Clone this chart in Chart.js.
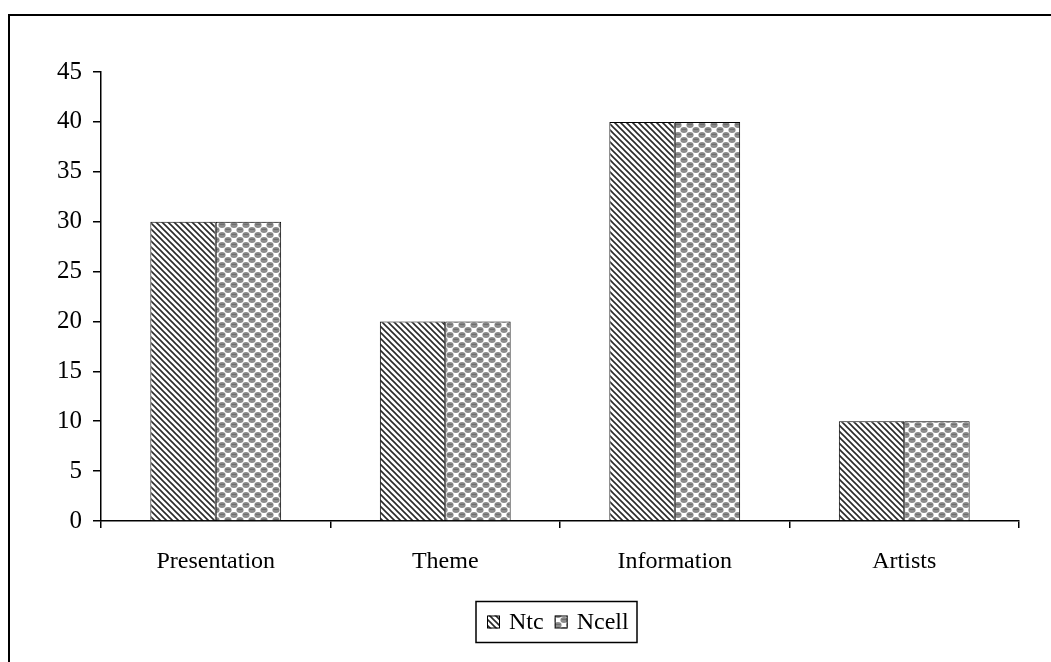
<!DOCTYPE html>
<html>
<head>
<meta charset="utf-8">
<script src="https://cdn.jsdelivr.net/npm/chart.js@4/dist/chart.umd.min.js"></script>
<style>
  body { margin: 0; background: #fff; }
  #wrap { width: 1051px; height: 662px; }
</style>
</head>
<body>
<div id="wrap"><canvas id="survey"></canvas></div>
<script>
// data
var categories = ["Presentation", "Theme", "Information", "Artists"];
var ntcValues = [30, 20, 40, 10];
var ncellValues = [30, 20, 40, 10];
var seriesNames = ["Ntc", "Ncell"];

var FONT = "'Liberation Serif', 'Times New Roman', serif";

// fill patterns
function hatchPattern() {
    var c = document.createElement("canvas");
    c.width = 6; c.height = 6;
    var g = c.getContext("2d");
    g.fillStyle = "#fff";
    g.fillRect(0, 0, 6, 6);
    g.strokeStyle = "#2a2a2a";
    g.lineWidth = 1.6;
    g.beginPath();
    g.moveTo(-1, -1); g.lineTo(7, 7);
    g.moveTo(-1, 5); g.lineTo(1, 7);
    g.moveTo(5, -1); g.lineTo(7, 1);
    g.stroke();
    return g.createPattern(c, "repeat");
}

function dotPattern() {
    var c = document.createElement("canvas");
    c.width = 12; c.height = 10;
    var g = c.getContext("2d");
    g.fillStyle = "#fff";
    g.fillRect(0, 0, 12, 10);
    var centres = [[6, 5], [0, 0], [12, 0], [0, 10], [12, 10]];
    g.fillStyle = "#8c8c8c";
    centres.forEach(function (p) {
        g.beginPath();
        g.ellipse(p[0], p[1], 3.6, 2.9, 0, 0, Math.PI * 2);
        g.fill();
    });
    g.fillStyle = "#6e6e6e";
    centres.forEach(function (p) {
        g.fillRect(p[0] - 2.5, p[1] - 1.2, 5, 1.2);
    });
    return g.createPattern(c, "repeat");
}

var patterns = [hatchPattern(), dotPattern()];

// outer frame (only top and left visible in the original)
var framePlugin = {
    id: "frame",
    afterDraw: function (chart) {
        var ctx = chart.ctx;
        ctx.save();
        ctx.strokeStyle = "#000";
        ctx.lineWidth = 2;
        ctx.beginPath();
        ctx.moveTo(9, 662);
        ctx.lineTo(9, 15);
        ctx.lineTo(1051, 15);
        ctx.stroke();
        ctx.restore();
    }
};

// boxed legend under the axis
var boxLegend = {
    id: "boxLegend",
    afterDraw: function (chart) {
        var ctx = chart.ctx;
        ctx.save();
        ctx.font = "24px " + FONT;
        ctx.textBaseline = "middle";
        var box = 13, gapBox = 9, gapItem = 11, padX = 11;
        var widths = chart.data.datasets.map(function (d) { return ctx.measureText(d.label).width; });
        var total = padX;
        widths.forEach(function (w, i) { total += box + gapBox + w + (i ? gapItem : 0); });
        total += 8;
        var x = 476, cy = 622, h = 41;
        var y = cy - h / 2;
        ctx.strokeStyle = "#000";
        ctx.lineWidth = 1.5;
        ctx.strokeRect(x, y, Math.round(total), h);
        var px = x + padX;
        chart.data.datasets.forEach(function (d, i) {
            if (i) px += gapItem;
            ctx.fillStyle = d.backgroundColor;
            ctx.fillRect(px, cy - box / 2, box, box);
            ctx.lineWidth = 1;
            ctx.strokeRect(px + 0.5, cy - box / 2 + 0.5, box - 1, box - 1);
            px += box + gapBox;
            ctx.fillStyle = "#000";
            ctx.fillText(d.label, px, cy + 1);
            px += widths[i];
        });
        ctx.restore();
    }
};

var survey = new Chart(document.getElementById("survey"), {
    type: "bar",
    data: {
        labels: categories,
        datasets: [{
            label: seriesNames[0],
            data: ntcValues,
            backgroundColor: patterns[0],
            borderColor: "#000",
            borderWidth: 1
        }, {
            label: seriesNames[1],
            data: ncellValues,
            backgroundColor: patterns[1],
            borderColor: "#000",
            borderWidth: 1
        }]
    },
    options: {
        responsive: true,
        maintainAspectRatio: false,
        animation: false,
        datasets: { bar: { categoryPercentage: 0.57, barPercentage: 1.0 } },
        layout: { padding: { top: 72, right: 32, left: 0, bottom: 0 } },
        plugins: {
            legend: { display: false },
            tooltip: { enabled: false }
        },
        scales: {
            x: {
                afterFit: function (s) { s.height = 141; },
                grid: { offset: true, drawOnChartArea: false, tickLength: 7, color: "#000", lineWidth: 1.5 },
                border: { display: true, color: "#000", width: 1.5 },
                ticks: { color: "#000", font: { family: FONT, size: 24 }, padding: 19 }
            },
            y: {
                min: 0, max: 45,
                afterFit: function (s) { s.width = 101; },
                grid: { drawOnChartArea: false, tickLength: 8, color: "#000", lineWidth: 1.5 },
                border: { display: true, color: "#000", width: 1.5 },
                ticks: { stepSize: 5, color: "#000", font: { family: FONT, size: 25 }, padding: 11 }
            }
        }
    },
    plugins: [framePlugin, boxLegend]
});
</script>
</body>
</html>
